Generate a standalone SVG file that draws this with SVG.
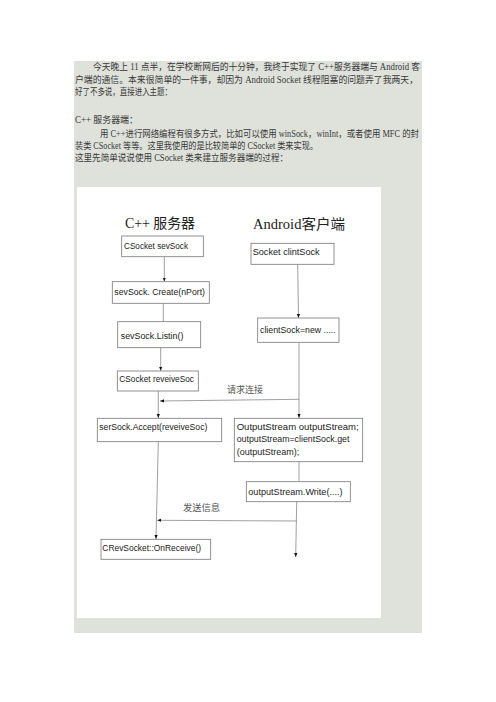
<svg xmlns="http://www.w3.org/2000/svg" width="496" height="702" viewBox="0 0 496 702">
<defs>
<style>
.para{font-family:"Liberation Serif","Noto Sans CJK SC",serif;font-size:9.5px;fill:#3a3a3a}
.box rect{fill:#fff;stroke:#777;stroke-width:0.8}
.box text{font-family:"Liberation Sans","Noto Sans CJK SC",sans-serif;font-size:8.5px;fill:#222}
.title{font-family:"Liberation Serif","Noto Sans CJK SC",serif;font-size:14px;fill:#222}
.lbl{font-family:"Noto Sans CJK SC",sans-serif;font-size:9px;fill:#555}
.conn line,.conn polyline{stroke:#888;stroke-width:0.8;fill:none}
</style>
<marker id="ah" markerUnits="userSpaceOnUse" markerWidth="4" markerHeight="4" viewBox="0 0 4 4" refX="4" refY="2" orient="auto">
<path d="M0,0.4 L4,2 L0,3.6 z" fill="#111"/>
</marker>
</defs>
<rect width="496" height="702" fill="#fff"/>
<rect x="74" y="61" width="348" height="572" fill="#dfe1db"/>
<rect x="77" y="187" width="304" height="431" fill="#fff"/>
<g id="intro">
<text class="para" x="93" y="70" textLength="327" lengthAdjust="spacingAndGlyphs">今天晚上 11 点半，在学校断网后的十分钟，我终于实现了 C++服务器端与 Android 客</text>
<text class="para" x="75" y="83" textLength="343" lengthAdjust="spacingAndGlyphs">户端的通信。本来很简单的一件事，却因为 Android Socket 线程阻塞的问题弄了我两天，</text>
<text class="para" x="75" y="95" textLength="97" lengthAdjust="spacingAndGlyphs">好了不多说，直接进入主题：</text>
<text class="para" x="75" y="123" textLength="63" lengthAdjust="spacingAndGlyphs">C++   服务器端：</text>
<text class="para" x="100" y="137" textLength="319" lengthAdjust="spacingAndGlyphs">用 C++进行网络编程有很多方式，比如可以使用 winSock，winInt，或者使用 MFC 的封</text>
<text class="para" x="75" y="149" textLength="243" lengthAdjust="spacingAndGlyphs">装类 CSocket 等等。这里我使用的是比较简单的 CSocket 类来实现。</text>
<text class="para" x="75" y="161" textLength="213" lengthAdjust="spacingAndGlyphs">这里先简单说说使用 CSocket 类来建立服务器端的过程：</text>
</g>
<g id="titles">
<text class="title" x="125" y="228" textLength="70" lengthAdjust="spacingAndGlyphs">C++ 服务器</text>
<text class="title" x="253" y="229" textLength="92" lengthAdjust="spacingAndGlyphs">Android客户端</text>
</g>
<g id="connectors" class="conn">
<line x1="164.3" y1="256.7" x2="164.3" y2="281.5" marker-end="url(#ah)"/>
<line x1="163.3" y1="303.3" x2="163.3" y2="321.5"/>
<line x1="160.7" y1="347.7" x2="160.7" y2="370.8" marker-end="url(#ah)"/>
<line x1="158.3" y1="391" x2="158.3" y2="418" marker-end="url(#ah)"/>
<line x1="297.7" y1="264.3" x2="298.5" y2="318" marker-end="url(#ah)"/>
<line x1="299" y1="342.3" x2="299" y2="418" marker-end="url(#ah)"/>
<line x1="299" y1="399.3" x2="160" y2="401" marker-end="url(#ah)"/>
<line x1="158.3" y1="441.7" x2="156" y2="539" marker-end="url(#ah)"/>
<line x1="299" y1="461.7" x2="299" y2="481.5"/>
<line x1="296.7" y1="501.7" x2="295.7" y2="557" marker-end="url(#ah)"/>
<line x1="296.7" y1="521" x2="157.3" y2="520.3" marker-end="url(#ah)"/>
<text class="lbl" x="227" y="393" textLength="36" lengthAdjust="spacingAndGlyphs">请求连接</text>
<text class="lbl" x="183" y="511" textLength="37" lengthAdjust="spacingAndGlyphs">发送信息</text>
</g>
<g id="n1" class="box"><rect x="121.7" y="236" width="81.6" height="20.7"/><text x="124" y="248.5" textLength="64" lengthAdjust="spacingAndGlyphs">CSocket sevSock</text></g>
<g id="n2" class="box"><rect x="112.3" y="281.7" width="97" height="21.6"/><text x="114.3" y="295.3" textLength="90.7" lengthAdjust="spacingAndGlyphs">sevSock. Create(nPort)</text></g>
<g id="n3" class="box"><rect x="117.7" y="321.7" width="83" height="26"/><text x="120.7" y="338.7" textLength="62.7" lengthAdjust="spacingAndGlyphs">sevSock.Listin()</text></g>
<g id="n4" class="box"><rect x="117.3" y="371" width="81" height="20"/><text x="119.3" y="382" textLength="74.7" lengthAdjust="spacingAndGlyphs">CSocket reveiveSoc</text></g>
<g id="n5" class="box"><rect x="97.3" y="418.3" width="124.4" height="23.4"/><text x="99.3" y="430.3" textLength="108" lengthAdjust="spacingAndGlyphs">serSock.Accept(reveiveSoc)</text></g>
<g id="n6" class="box"><rect x="101" y="539.3" width="109.7" height="20"/><text x="102.3" y="551.3" textLength="98.7" lengthAdjust="spacingAndGlyphs">CRevSocket::OnReceive()</text></g>
<g id="a1" class="box"><rect x="251" y="243.3" width="83" height="21"/><text x="252.7" y="254.8" textLength="67" lengthAdjust="spacingAndGlyphs">Socket  clintSock</text></g>
<g id="a2" class="box"><rect x="257.7" y="318" width="81.3" height="24.3"/><text x="260" y="333" textLength="75.7" lengthAdjust="spacingAndGlyphs">clientSock=new .....</text></g>
<g id="a3" class="box"><rect x="234.3" y="418.3" width="128.4" height="43.4"/>
<text x="236.7" y="430.3" textLength="122" lengthAdjust="spacingAndGlyphs">OutputStream outputStream;</text>
<text x="236.7" y="442.3" textLength="112.7" lengthAdjust="spacingAndGlyphs">outputStream=clientSock.get</text>
<text x="236.7" y="455.3" textLength="62.7" lengthAdjust="spacingAndGlyphs">(outputStream);</text></g>
<g id="a4" class="box"><rect x="246.3" y="481.7" width="104" height="20"/><text x="248.3" y="494.7" textLength="94.3" lengthAdjust="spacingAndGlyphs">outputStream.Write(....)</text></g>
</svg>
